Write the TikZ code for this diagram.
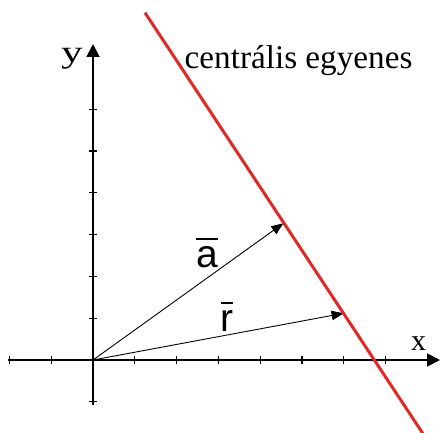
\documentclass[tikz,border=0pt]{standalone}
\usepackage{fontspec}
\setmainfont{Liberation Serif}
\newfontfamily\sansf{Liberation Sans}
\usetikzlibrary{arrows.meta,calc}
\newcommand{\barred}[1]{\setbox0\hbox{#1}\rlap{\rule[0.70em]{\wd0}{0.05em}}\box0}
\definecolor{linered}{RGB}{224,40,36}
\tikzset{
  axis/.style={line width=1.9pt,-{Triangle[length=13pt,width=13pt]}},
  tick/.style={line width=1.2pt},
  vec/.style={line width=0.9pt,-{Triangle[length=12pt,width=9.5pt]}},
  lbl/.style={font=\fontsize{33.2}{34}\selectfont,inner sep=0pt,anchor=base},
  vlbl/.style={font=\sansf\fontsize{39}{39}\selectfont,inner sep=0pt,anchor=base},
}
\begin{document}
\begin{tikzpicture}[x=1pt,y=1pt]
\useasboundingbox (0,0) rectangle (441,432);
\clip (0,0) rectangle (441,432);
\coordinate (O) at (93,72);
\coordinate (xs) at (8,72);
\coordinate (xe) at (440,72);
\coordinate (ys) at (93,27);
\coordinate (ye) at (93,388);
\coordinate (L1) at (145,419.3);
\coordinate (L2) at (424.5,-4);
\coordinate (A) at (283.3,208.7);
\coordinate (R) at (343.6,118.7);
% axes
\draw[axis] (xs) -- (xe);
\draw[axis] (ys) -- (ye);
\foreach \k in {-2,-1,1,2,3,4,5,6,7} {
  \draw[tick] ($(O)+(\k*41.8,-4)$) -- ($(O)+(\k*41.8,4)$);
}
\foreach \k in {-1,1,2,3,4,5,6} {
  \draw[tick] ($(O)+(-4,\k*41.8)$) -- ($(O)+(4,\k*41.8)$);
}
% vectors
\draw[vec] (O) -- (A);
\draw[vec] (O) -- (R);
% central line
\draw[linered,line width=3pt] (L1) -- (L2);
% labels
\node[font=\fontsize{31}{31}\selectfont,inner sep=0pt,anchor=base] (ylab) at (72,369.7) {\scalebox{1.4}[1]{y}};
\node[font=\fontsize{30}{30}\selectfont,inner sep=0pt,anchor=base] (xlab) at (418.7,81.5) {x};
\node[lbl,anchor=base west] (cent) at (184.5,363.7) {centrális egyenes};
\node[vlbl] (alab) at (207,164.3) {\barred{a}};
\node[vlbl] (rlab) at (227,100.3) {\barred{r}};
\end{tikzpicture}
\end{document}
